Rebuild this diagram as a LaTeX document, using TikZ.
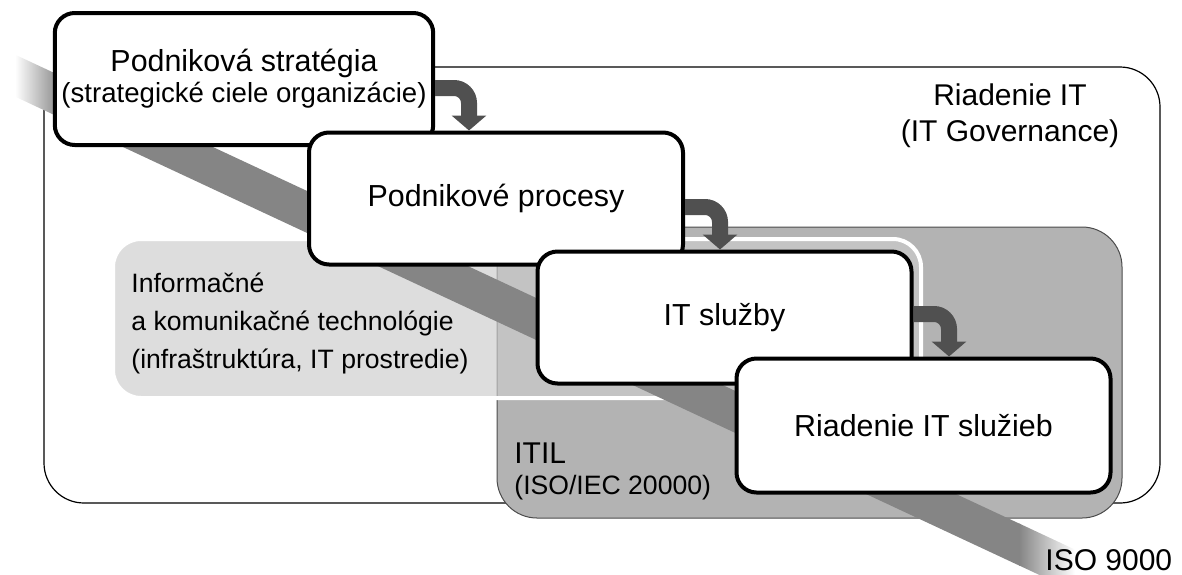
\documentclass[tikz,border=0pt]{standalone}
\usepackage{fontspec}
\setmainfont{Liberation Sans}
\usepackage{xcolor}
\usetikzlibrary{arrows.meta}

\definecolor{bandgray}{HTML}{858585}
\definecolor{itilgray}{HTML}{B3B3B3}
\definecolor{arrowgray}{HTML}{505050}

\begin{document}
\begin{tikzpicture}[x=0.5pt,y=-0.5pt,
  stage/.style={draw,line width=2pt,fill=white,rounded corners=10pt,
    minimum width=187pt,minimum height=66pt,align=center,
    font=\fontsize{15.2}{18}\selectfont},
  flow/.style={draw=arrowgray,line width=8pt,rounded corners=7.5pt,
    -{Triangle[width=17pt,length=7.5pt]}},
  big/.style={inner sep=0pt,font=\fontsize{15}{18}\selectfont},
  small/.style={inner sep=0pt,font=\fontsize{13.3}{15.5}\selectfont}
]
\useasboundingbox (0,0) rectangle (1182,574);

% The frames
\draw[line width=0.6pt,rounded corners=20pt] (44,67) rectangle (1160,503);
\draw[draw=black!70,line width=0.5pt,fill=itilgray,rounded corners=20pt] (497,227) rectangle (1122,518);
\draw[draw=white,line width=2pt,fill=black!20,fill opacity=0.66,rounded corners=14pt] (113,239) rectangle (921,398);

% The band
\shade[left color=white,right color=bandgray] (15,54.6) -- (61,76.1) -- (61,118.1) -- (15,96.6) -- cycle;
\fill[bandgray] (60,75.6) -- (1020,523.9) -- (1020,565.9) -- (60,117.6) -- cycle;
\shade[left color=bandgray,right color=white] (1019,523.4) -- (1075,549.6) -- (1075,591.6) -- (1019,565.4) -- cycle;

% The labels
\node[big,anchor=base] (gov) at (1010,105) {Riadenie IT};
\node[big,anchor=base] (govb) at (1010,141) {(IT Governance)};
\node[small,anchor=base west] (ict) at (131,292) {Informačné};
\node[small,anchor=base west] (ictb) at (131,330) {a komunikačné technológie};
\node[small,anchor=base west] (ictc) at (131,368) {(infraštruktúra, IT prostredie)};
\node[big,anchor=base west] (itil) at (514,463) {ITIL};
\node[small,anchor=base west] (itilb) at (514,494) {(ISO/IEC 20000)};
\node[big,anchor=base west] (iso) at (1045,570) {ISO 9000};

% The boxes
\node[stage,font=\fontsize{15.2}{15.5}\selectfont] (strat) at (244,79)
  {Podniková stratégia\\{\fontsize{13.8}{15.5}\selectfont(strategické ciele organizácie)}};
\node[stage] (proc) at (496,198.5) {Podnikové procesy};
\node[stage] (serv) at (724.5,317.5) {IT služby};
\node[stage,minimum height=67pt] (mgmt) at (923.5,425.5) {Riadenie IT služieb};

% The arrows
\draw[flow] ([yshift=-4.5pt]strat.east) -| ([xshift=-13.5pt]proc.north);
\draw[flow] ([yshift=-4.25pt]proc.east) -| ([xshift=-2.25pt]serv.north);
\draw[flow] ([yshift=1.75pt]serv.east) -| ([xshift=12.75pt]mgmt.north);
\end{tikzpicture}
\end{document}
